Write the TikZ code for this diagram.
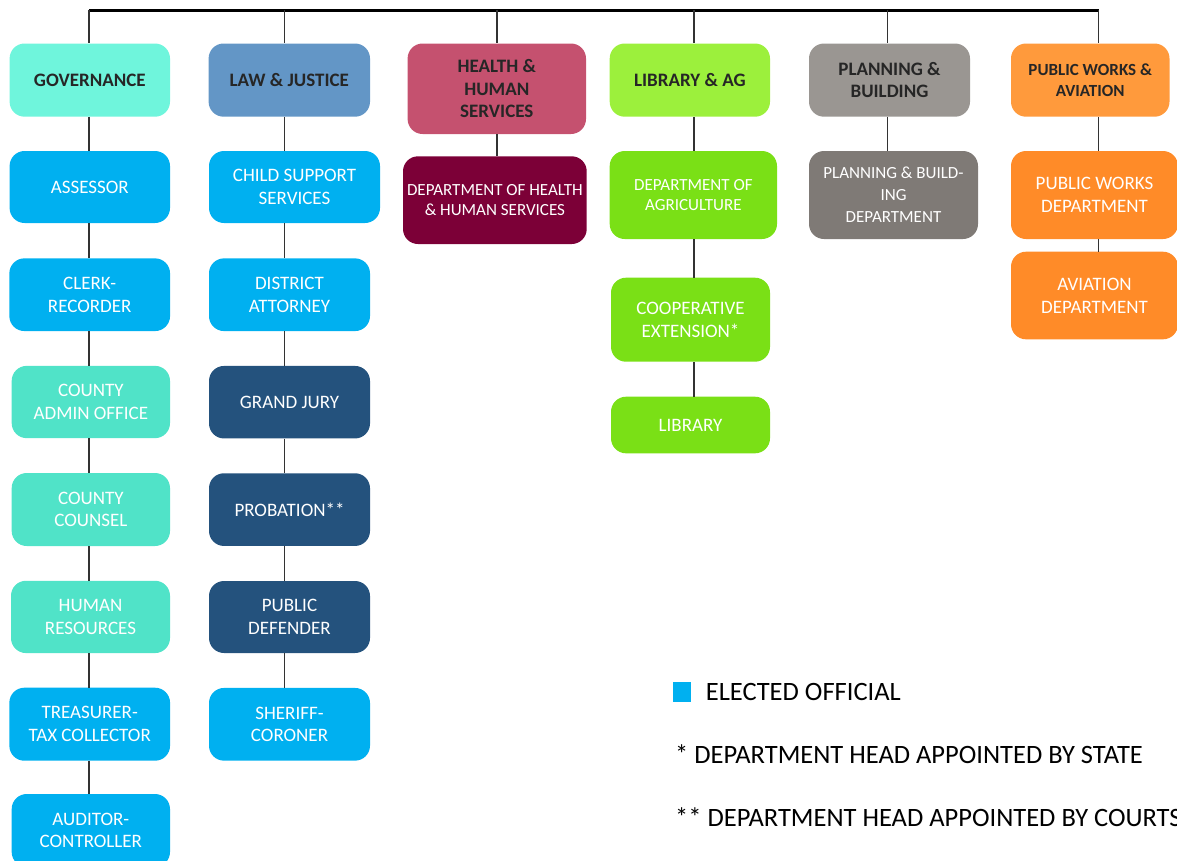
\documentclass[tikz,border=0pt]{standalone}
\usepackage{fontspec}
\setmainfont{Carlito}
\definecolor{cMint}{HTML}{6FF5DC}
\definecolor{cBlue}{HTML}{00B0F0}
\definecolor{cTeal}{HTML}{50E3C8}
\definecolor{cLaw}{HTML}{6396C6}
\definecolor{cNavy}{HTML}{24527D}
\definecolor{cHealth}{HTML}{C5516F}
\definecolor{cMaroon}{HTML}{7C0037}
\definecolor{cLime}{HTML}{9CF03C}
\definecolor{cGreen}{HTML}{7AE016}
\definecolor{cGreyH}{HTML}{9A9692}
\definecolor{cGrey}{HTML}{7F7A76}
\definecolor{cOrangeH}{HTML}{FF9A3C}
\definecolor{cOrange}{HTML}{FF8B28}
\definecolor{cHdrText}{HTML}{262626}
\definecolor{cLine}{HTML}{333333}
\newcommand\fsN{\fontsize{19}{22.7}\selectfont}
\newcommand\fsS{\fontsize{17}{20.5}\selectfont}
\newcommand\fsP{\fontsize{17}{22}\selectfont}
\newcommand\fsB{\fontsize{19}{22.7}\selectfont\bfseries}
\newcommand\fsBS{\fontsize{17}{21.3}\selectfont\bfseries}
\newcommand\fsL{\fontsize{26.5}{30}\selectfont}
\tikzset{
  box/.style={rectangle, rounded corners=15pt, draw=none, align=center, inner sep=1pt, text=white, font=\fsN},
  hdr/.style={box, text=cHdrText, font=\fsB},
  conn/.style={draw=cLine, line width=1.6pt},
  bus/.style={draw=black, line width=3pt},
  legtext/.style={anchor=base west, inner sep=0pt, font=\fsL, text=black}
}
\begin{document}
\begin{tikzpicture}[x=1pt,y=-1pt]
\useasboundingbox (0,0) rectangle (1177,860);
% column bus points
\coordinate (t1) at (88.8,10);
\coordinate (t2) at (284.3,10);
\coordinate (t3) at (497,10);
\coordinate (t4) at (694,10);
\coordinate (t5) at (887.5,10);
\coordinate (t6) at (1098.5,10);

% Column 1
\node[hdr, fill=cMint, minimum width=160.4, minimum height=73.2] (gov) at (89.8,80.1) {GOVERNANCE};
\node[box, fill=cBlue, minimum width=160.4, minimum height=72] (ass) at (89.8,187) {ASSESSOR};
\node[box, fill=cBlue, minimum width=160.7, minimum height=72.7] (clerk) at (89.7,294.7) {CLERK-\\RECORDER};
\node[box, fill=cTeal, minimum width=158.3, minimum height=72.3] (admin) at (90.85,402) {COUNTY\\ADMIN OFFICE};
\node[box, fill=cTeal, minimum width=158.3, minimum height=73] (counsel) at (90.85,509.5) {COUNTY\\COUNSEL};
\node[box, fill=cTeal, minimum width=159, minimum height=72.3] (hr) at (90.5,616.9) {HUMAN\\RESOURCES};
\node[box, fill=cBlue, minimum width=160.7, minimum height=73] (treas) at (89.7,724.2) {TREASURER-\\TAX COLLECTOR};
\node[box, fill=cBlue, minimum width=158.3, minimum height=73] (aud) at (90.85,830.5) {AUDITOR-\\CONTROLLER};

% Column 2
\node[hdr, fill=cLaw, minimum width=161.4, minimum height=73.2] (law) at (289.3,80.1) {LAW \& JUSTICE};
\node[box, fill=cBlue, minimum width=171, minimum height=72] (child) at (294.5,187) {CHILD SUPPORT\\SERVICES};
\node[box, fill=cBlue, minimum width=161, minimum height=72.7] (da) at (289.5,294.7) {DISTRICT\\ATTORNEY};
\node[box, fill=cNavy, minimum width=161, minimum height=72.5] (gj) at (289.5,402.2) {GRAND JURY};
\node[box, fill=cNavy, minimum width=161, minimum height=72.7] (prob) at (289.5,509.6) {PROBATION**};
\node[box, fill=cNavy, minimum width=161, minimum height=72] (pd) at (289.5,617) {PUBLIC\\DEFENDER};
\node[box, fill=cBlue, minimum width=161, minimum height=72.7] (sher) at (289.5,724.3) {SHERIFF-\\CORONER};

% Column 3
\node[hdr, fill=cHealth, minimum width=178.4, minimum height=90.5] (health) at (496.8,88.75) {HEALTH \&\\HUMAN\\SERVICES};
\node[box, fill=cMaroon, font=\fsS, minimum width=183.7, minimum height=87.7] (dhhs) at (494.85,200.15) {DEPARTMENT OF HEALTH\\\& HUMAN SERVICES};

% Column 4
\node[hdr, fill=cLime, minimum width=160.3, minimum height=73.2] (lib) at (689.85,80.1) {LIBRARY \& AG};
\node[box, fill=cGreen, font=\fsS, minimum width=167.3, minimum height=88] (ag) at (693.35,195) {DEPARTMENT OF\\AGRICULTURE};
\node[box, fill=cGreen, minimum width=159, minimum height=84] (coop) at (690.5,319.7) {COOPERATIVE\\EXTENSION*};
\node[box, fill=cGreen, minimum width=159, minimum height=56.6] (library) at (690.5,425) {LIBRARY};

% Column 5
\node[hdr, fill=cGreyH, minimum width=161, minimum height=73.2] (plan) at (889.5,80.1) {PLANNING \&\\BUILDING};
\node[box, fill=cGrey, font=\fsP, minimum width=169, minimum height=88] (pdept) at (893.5,195) {PLANNING \& BUILD-\\ING\\DEPARTMENT};

% Column 6
\node[hdr, fill=cOrangeH, font=\fsBS, minimum width=158.5, minimum height=73.2] (pw) at (1090.25,80.1) {PUBLIC WORKS \&\\AVIATION};
\node[box, fill=cOrange, minimum width=167, minimum height=88] (pwd) at (1094.5,195) {PUBLIC WORKS\\DEPARTMENT};
\node[box, fill=cOrange, minimum width=167, minimum height=87.6] (avi) at (1094.5,295.5) {AVIATION\\DEPARTMENT};

% Connectors
\draw[bus] (t1) -- (t6);
\draw[conn] (t1) -- (t1 |- gov.north);
\draw[conn] (t1 |- gov.south) -- (t1 |- ass.north);
\draw[conn] (t1 |- ass.south) -- (t1 |- clerk.north);
\draw[conn] (t1 |- clerk.south) -- (t1 |- admin.north);
\draw[conn] (t1 |- admin.south) -- (t1 |- counsel.north);
\draw[conn] (t1 |- counsel.south) -- (t1 |- hr.north);
\draw[conn] (t1 |- hr.south) -- (t1 |- treas.north);
\draw[conn] (t1 |- treas.south) -- (t1 |- aud.north);

\draw[conn] (t2) -- (t2 |- law.north);
\draw[conn] (t2 |- law.south) -- (t2 |- child.north);
\draw[conn] (t2 |- child.south) -- (t2 |- da.north);
\draw[conn] (t2 |- da.south) -- (t2 |- gj.north);
\draw[conn] (t2 |- gj.south) -- (t2 |- prob.north);
\draw[conn] (t2 |- prob.south) -- (t2 |- pd.north);
\draw[conn] (t2 |- pd.south) -- (t2 |- sher.north);

\draw[conn] (t3) -- (t3 |- health.north);
\draw[conn] (t3 |- health.south) -- (t3 |- dhhs.north);

\draw[conn] (t4) -- (t4 |- lib.north);
\draw[conn] (t4 |- lib.south) -- (t4 |- ag.north);
\draw[conn] (t4 |- ag.south) -- (t4 |- coop.north);
\draw[conn] (t4 |- coop.south) -- (t4 |- library.north);

\draw[conn] (t5) -- (t5 |- plan.north);
\draw[conn] (t5 |- plan.south) -- (t5 |- pdept.north);

\draw[conn] (t6) -- (t6 |- pw.north);
\draw[conn] (t6 |- pw.south) -- (t6 |- pwd.north);
\draw[conn] (t6 |- pwd.south) -- (t6 |- avi.north);

% Legend
\node[fill=cBlue, minimum width=18.3, minimum height=19.4, inner sep=0pt] (legsq) at (681.85,692) {};
\node[legtext] (leg1) at (705.7,700.7) {ELECTED OFFICIAL};
\node[legtext] (leg2) at (675,763) {* DEPARTMENT HEAD APPOINTED BY STATE};
\node[legtext] (leg3) at (675,826.7) {** DEPARTMENT HEAD APPOINTED BY COURTS};
\end{tikzpicture}
\end{document}
